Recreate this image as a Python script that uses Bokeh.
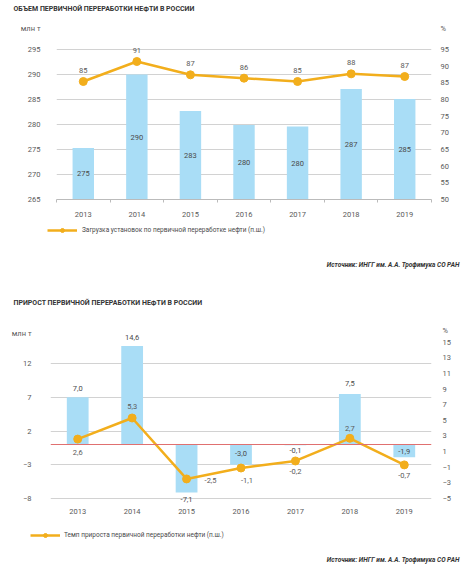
from bokeh.plotting import figure
from bokeh.models import (Range1d, LinearAxis, FixedTicker, ColumnDataSource,
                          Legend, LegendItem, Span, Label)
from bokeh.layouts import column
from bokeh.embed import file_html
from bokeh.resources import INLINE
from bokeh.core.properties import value

# ---------------- data ----------------
years = ["2013", "2014", "2015", "2016", "2017", "2018", "2019"]

# chart 1: volume of primary oil refining (mln t) and load factor (%)
volume = [275.3, 290.0, 282.7, 279.9, 279.6, 287.1, 285.1]
load_pct = [85.4, 91.4, 87.4, 86.4, 85.4, 87.7, 86.9]
volume_ticks = [265, 270, 275, 280, 285, 290, 295]
load_ticks = [50, 55, 60, 65, 70, 75, 80, 85, 90, 95]

# chart 2: growth of primary refining (mln t) and growth rate (%)
growth = [7.0, 14.6, -7.1, -3.0, -0.1, 7.5, -1.9]
growth_pct = [2.6, 5.3, -2.5, -1.1, -0.2, 2.7, -0.7]
growth_ticks = [-8, -3, 2, 7, 12]
growth_pct_ticks = [-5, -3, -1, 1, 3, 5, 7, 9, 11, 13, 15]

title1 = "ОБЪЕМ ПЕРВИЧНОЙ ПЕРЕРАБОТКИ НЕФТИ В РОССИИ"
title2 = "ПРИРОСТ ПЕРВИЧНОЙ ПЕРЕРАБОТКИ НЕФТИ В РОССИИ"
legend1 = "Загрузка установок по первичной переработке нефти (п.ш.)"
legend2 = "Темп прироста первичной переработки нефти (п.ш.)"
source_txt = "Источник: ИНГГ им. А.А. Трофимука СО РАН"
unit_left = "млн т"
unit_right = "%"

# ---------------- style ----------------
FONT = "Roboto"
BLUE = "#A9DDF6"
ORANGE = "#F2AE1C"
GRID = "#D2D2D2"
TICK_TXT = "#5A5A5A"
LBL_TXT = "#4A4A4A"
TITLE_TXT = "#333333"
FS = "7.5px"
W = 474

xs = list(range(len(years)))


def fmt_int(v):
    return f"{v:.0f}"


def fmt_dec(v):
    return f"{v:.1f}".replace(".", ",")


def style_axis(ax, standoff):
    ax.axis_line_color = None
    ax.major_tick_line_color = None
    ax.minor_tick_line_color = None
    ax.major_tick_out = 0
    ax.major_tick_in = 0
    ax.minor_tick_out = 0
    ax.minor_tick_in = 0
    ax.major_label_standoff = standoff
    ax.major_label_text_font = FONT
    ax.major_label_text_font_size = FS
    ax.major_label_text_color = TICK_TXT


def text_strip(height):
    """A figure with no axes whose frame is the whole strip (for legend/source/title)."""
    f = figure(width=W, height=height, min_border=0, x_range=Range1d(0, W),
               y_range=Range1d(0, height), x_axis_location=None, y_axis_location=None,
               output_backend="svg", toolbar_location=None, outline_line_color=None,
               frame_align=False)
    f.grid.visible = False
    return f


def add_text(f, x, y, text, align="left", size=FS, style="normal", color=TITLE_TXT):
    f.add_layout(Label(x=x, y=y, x_units="screen", y_units="screen", text=text,
                       text_align=align, text_baseline="middle", text_font=FONT,
                       text_font_size=size, text_font_style=style, text_color=color))


def add_legend(f, label, xvals, yvals, loc, standoff):
    # hidden copies of the series give the legend its sample (line + marker)
    lr = f.line(x=xvals, y=yvals, line_color=ORANGE, line_width=2.5, visible=False)
    sr = f.scatter(x=xvals, y=yvals, size=8, fill_color=ORANGE, line_color=ORANGE,
                   visible=False)
    lg = Legend(items=[LegendItem(label=label, renderers=[lr, sr])],
                location=loc, border_line_color=None, background_fill_alpha=0,
                padding=0, margin=0, spacing=0, glyph_width=30, glyph_height=10,
                label_height=10, label_standoff=standoff,
                label_text_font=FONT, label_text_font_size="6.5px",
                label_text_color=LBL_TXT)
    f.add_layout(lg)


# ================= chart 1 =================
unit_tick_l1 = 299.2
unit_tick_r1 = 101.3
p1 = figure(width=W, frame_width=375, frame_height=180, min_border_left=56,
            min_border_right=43, min_border_top=0, min_border_bottom=21,
            x_range=Range1d(-0.5, len(years) - 0.5),
            y_range=Range1d(volume_ticks[0], 301),
            output_backend="svg", toolbar_location=None, outline_line_color=None,
            frame_align=False)
p1.extra_y_ranges = {"pct": Range1d(load_ticks[0], 104)}
p1.title.text = title1
p1.title.align = "left"
p1.title.vertical_align = "top"
p1.title.offset = -43
p1.title.standoff = 9
p1.title.text_font = FONT
p1.title.text_font_size = "7px"
p1.title.text_font_style = "bold"
p1.title.text_color = TITLE_TXT

p1.yaxis.ticker = FixedTicker(ticks=volume_ticks + [unit_tick_l1])
p1.yaxis.major_label_overrides = {unit_tick_l1: unit_left}
style_axis(p1.yaxis[0], 16)
ra1 = LinearAxis(y_range_name="pct", ticker=FixedTicker(ticks=load_ticks + [unit_tick_r1]))
ra1.major_label_overrides = {unit_tick_r1: unit_right}
style_axis(ra1, 9)
p1.add_layout(ra1, "right")

xa1 = p1.xaxis[0]
xa1.ticker = FixedTicker(ticks=xs, minor_ticks=[i - 0.5 for i in range(len(years) + 1)])
xa1.major_label_overrides = {i: y for i, y in enumerate(years)}
style_axis(xa1, 9)
xa1.axis_line_color = "#BBBBBB"
xa1.minor_tick_line_color = "#BBBBBB"
xa1.minor_tick_out = 3

p1.xgrid.visible = False
p1.ygrid.ticker = FixedTicker(ticks=volume_ticks[1:])
p1.ygrid.grid_line_color = GRID

base1 = volume_ticks[0]
src1 = ColumnDataSource(dict(
    x=xs, top=volume, mid=[(v + base1) / 2 for v in volume],
    txt=[fmt_int(v) for v in volume],
    pct=load_pct, ptxt=[fmt_int(v) for v in load_pct]))

p1.vbar(x="x", top="top", bottom=base1, width=0.4, source=src1,
        fill_color=BLUE, line_color=None)
p1.text(x="x", y="mid", text="txt", source=src1, text_align="center",
        text_baseline="middle", text_font=value(FONT), text_font_size=FS,
        text_color=LBL_TXT)
p1.line(x="x", y="pct", source=src1, y_range_name="pct",
        line_color=ORANGE, line_width=2.5)
p1.scatter(x="x", y="pct", source=src1, y_range_name="pct", size=8,
           fill_color=ORANGE, line_color=ORANGE)
p1.text(x="x", y="pct", text="ptxt", source=src1, y_range_name="pct",
        y_offset=-11, text_align="center", text_baseline="middle",
        text_font=value(FONT), text_font_size=FS, text_color=TICK_TXT)

# ---- strip between the charts: legend 1, source 1, title 2 ----
m1 = text_strip(98)
add_legend(m1, legend1, xs, load_pct, (47, 83), 5)
add_text(m1, 459, 54, source_txt, align="right", size="6.5px", style="bold italic")
add_text(m1, 13, 16, title2, size="7px", style="bold")

# ================= chart 2 =================
unit_tick_l2 = 16.5
unit_tick_r2 = 16.5
p2 = figure(width=W, frame_width=381, frame_height=181, min_border_left=50,
            min_border_right=43, min_border_top=5, min_border_bottom=16,
            x_range=Range1d(-0.5, len(years) - 0.5),
            y_range=Range1d(-8.89, 17.93),
            output_backend="svg", toolbar_location=None, outline_line_color=None,
            frame_align=False)
p2.extra_y_ranges = {"pct": Range1d(-5.77, 17.39)}

p2.yaxis.ticker = FixedTicker(ticks=growth_ticks + [unit_tick_l2])
p2.yaxis.major_label_overrides = {unit_tick_l2: unit_left}
style_axis(p2.yaxis[0], 19)
ra2 = LinearAxis(y_range_name="pct", ticker=FixedTicker(ticks=growth_pct_ticks + [unit_tick_r2]))
ra2.major_label_overrides = {unit_tick_r2: unit_right}
style_axis(ra2, 11)
p2.add_layout(ra2, "right")

xa2 = p2.xaxis[0]
xa2.ticker = FixedTicker(ticks=xs)
xa2.major_label_overrides = {i: y for i, y in enumerate(years)}
style_axis(xa2, 4)

p2.xgrid.visible = False
p2.ygrid.ticker = FixedTicker(ticks=growth_ticks)
p2.ygrid.grid_line_color = GRID

bar_lbl_dy = [-9, -8, 7, -11, 5, -10, -6]
pct_lbl_dx = [0, 0, 24, 6, 0, 0, 0]
pct_lbl_dy = [13, -11, 2, 12, 11, -10, 11]

src2 = ColumnDataSource(dict(
    x=xs, top=growth, txt=[fmt_dec(v) for v in growth], bdy=bar_lbl_dy,
    pct=growth_pct, ptxt=[fmt_dec(v) for v in growth_pct],
    pdx=pct_lbl_dx, pdy=pct_lbl_dy))

p2.vbar(x="x", top="top", bottom=0, width=0.4, source=src2,
        fill_color=BLUE, line_color=None)
p2.add_layout(Span(location=0, dimension="width", line_color="#E07070", line_width=1))
p2.text(x="x", y="top", text="txt", source=src2, y_offset="bdy",
        text_align="center", text_baseline="middle", text_font=value(FONT),
        text_font_size=FS, text_color=LBL_TXT)
p2.line(x="x", y="pct", source=src2, y_range_name="pct",
        line_color=ORANGE, line_width=2.5)
p2.scatter(x="x", y="pct", source=src2, y_range_name="pct", size=8,
           fill_color=ORANGE, line_color=ORANGE)
p2.text(x="x", y="pct", text="ptxt", source=src2, y_range_name="pct",
        x_offset="pdx", y_offset="pdy", text_align="center", text_baseline="middle",
        text_font=value(FONT), text_font_size=FS, text_color=TICK_TXT)

# ---- strip below chart 2: legend 2, source 2 ----
m2 = text_strip(56)
add_legend(m2, legend2, xs, growth_pct, (30, 36), 4)
add_text(m2, 459, 17, source_txt, align="right", size="6.5px", style="bold italic")

layout = column(p1, m1, p2, m2, spacing=0)
open("out.html", "w").write(file_html(layout, INLINE))
